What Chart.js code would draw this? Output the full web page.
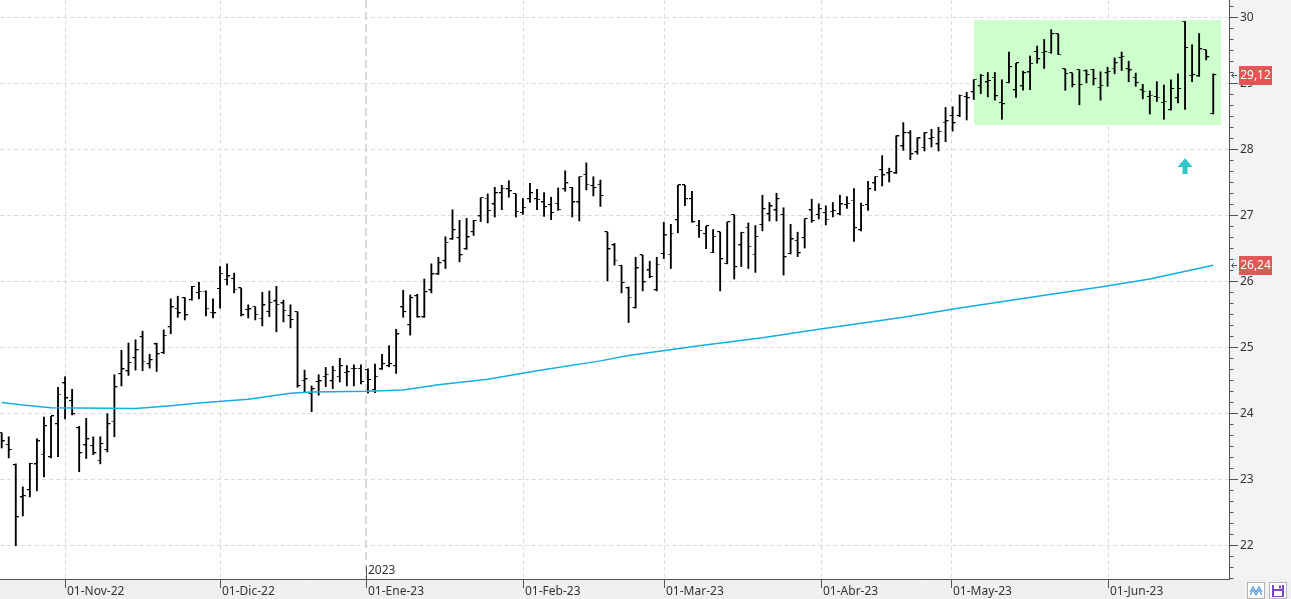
<!DOCTYPE html>
<html><head><meta charset="utf-8">
<script src="https://cdn.jsdelivr.net/npm/chart.js@4/dist/chart.umd.min.js"></script>
<style>html,body{margin:0;padding:0;background:#fff;overflow:hidden}canvas{display:block}</style>
</head><body>
<canvas id="c" width="1291" height="599"></canvas>
<script>
// ---- categories: trading days ----
const dates = [
'2022-10-19','2022-10-20','2022-10-21','2022-10-24','2022-10-25','2022-10-26','2022-10-27','2022-10-28','2022-10-31',
'2022-11-01','2022-11-02','2022-11-03','2022-11-04','2022-11-07','2022-11-08','2022-11-09','2022-11-10','2022-11-11','2022-11-14','2022-11-15','2022-11-16','2022-11-17','2022-11-18','2022-11-21','2022-11-22','2022-11-23','2022-11-24','2022-11-25','2022-11-28','2022-11-29','2022-11-30',
'2022-12-01','2022-12-02','2022-12-05','2022-12-06','2022-12-07','2022-12-08','2022-12-09','2022-12-12','2022-12-13','2022-12-14','2022-12-15','2022-12-16','2022-12-19','2022-12-20','2022-12-21','2022-12-22','2022-12-23','2022-12-27','2022-12-28','2022-12-29','2022-12-30',
'2023-01-02','2023-01-03','2023-01-04','2023-01-05','2023-01-06','2023-01-09','2023-01-10','2023-01-11','2023-01-12','2023-01-13','2023-01-16','2023-01-17','2023-01-18','2023-01-19','2023-01-20','2023-01-23','2023-01-24','2023-01-25','2023-01-26','2023-01-27','2023-01-30','2023-01-31',
'2023-02-01','2023-02-02','2023-02-03','2023-02-06','2023-02-07','2023-02-08','2023-02-09','2023-02-10','2023-02-13','2023-02-14','2023-02-15','2023-02-16','2023-02-17','2023-02-20','2023-02-21','2023-02-22','2023-02-23','2023-02-24','2023-02-27','2023-02-28',
'2023-03-01','2023-03-02','2023-03-03','2023-03-06','2023-03-07','2023-03-08','2023-03-09','2023-03-10','2023-03-13','2023-03-14','2023-03-15','2023-03-16','2023-03-17','2023-03-20','2023-03-21','2023-03-22','2023-03-23','2023-03-24','2023-03-27','2023-03-28','2023-03-29','2023-03-30','2023-03-31',
'2023-04-03','2023-04-04','2023-04-05','2023-04-06','2023-04-11','2023-04-12','2023-04-13','2023-04-14','2023-04-17','2023-04-18','2023-04-19','2023-04-20','2023-04-21','2023-04-24','2023-04-25','2023-04-26','2023-04-27','2023-04-28',
'2023-05-02','2023-05-03','2023-05-04','2023-05-05','2023-05-08','2023-05-09','2023-05-10','2023-05-11','2023-05-12','2023-05-15','2023-05-16','2023-05-17','2023-05-18','2023-05-19','2023-05-22','2023-05-23','2023-05-24','2023-05-25','2023-05-26','2023-05-29','2023-05-30','2023-05-31',
'2023-06-01','2023-06-02','2023-06-05','2023-06-06','2023-06-07','2023-06-08','2023-06-09','2023-06-12','2023-06-13','2023-06-14','2023-06-15','2023-06-16','2023-06-19','2023-06-20','2023-06-21','2023-06-22'
];

// ---- series values (OHLC) ----
const opens = [23.70,23.52,23.21,22.72,22.83,23.22,23.37,23.33,23.83,24.45,
24.18,23.77,23.51,23.50,23.28,23.44,23.87,24.59,24.63,24.83,
25.15,24.74,25.04,24.91,25.30,25.58,25.74,25.71,25.82,25.84,
25.52,25.88,26.02,26.03,25.89,25.56,25.61,25.43,25.53,25.69,
25.66,25.47,25.53,24.49,24.29,24.47,24.55,24.48,24.55,24.61,
24.67,24.67,24.65,24.35,24.66,24.71,24.71,25.60,25.33,25.77,
25.45,25.86,26.10,26.30,26.63,26.65,26.48,26.74,26.98,27.25,
27.16,27.33,27.39,27.32,27.03,27.24,27.24,27.19,27.15,27.17,
27.39,27.41,27.19,27.61,27.44,27.46,26.74,26.54,26.23,25.89,
25.59,26.39,26.16,25.86,26.41,26.40,26.92,27.45,27.24,26.84,
26.71,26.43,26.74,26.26,27.00,26.54,26.81,26.40,26.85,27.01,
27.07,27.00,26.41,26.61,26.65,27.07,27.00,27.03,27.05,27.01,
27.15,27.22,26.77,27.15,27.48,27.68,27.63,27.63,28.04,28.24,
27.95,28.02,28.15,28.07,28.40,28.50,28.50,28.79,28.86,28.95,
29.01,29.08,28.70,29.00,28.89,28.95,29.16,29.47,29.46,29.46,
29.74,29.21,29.15,29.20,29.18,29.20,28.93,29.15,29.22,29.38,
29.21,29.08,28.89,28.79,28.79,28.70,28.59,28.77,29.93,29.11,
29.10,29.50,28.53];
const highs = [23.70,23.64,23.23,22.88,23.24,23.61,23.94,23.95,24.39,24.55,
24.36,23.80,23.92,23.64,23.64,23.99,24.58,24.95,25.06,25.11,
25.24,24.89,25.06,25.26,25.73,25.77,25.75,25.92,25.98,25.85,
25.73,26.22,26.26,26.12,25.89,25.64,25.61,25.83,25.85,25.92,
25.71,25.64,25.53,24.65,24.41,24.58,24.69,24.71,24.83,24.72,
24.73,24.73,24.67,24.74,24.89,25.02,25.27,25.86,25.79,25.80,
26.03,26.26,26.36,26.67,27.08,26.92,26.95,26.92,27.26,27.32,
27.42,27.45,27.52,27.32,27.25,27.48,27.39,27.34,27.27,27.41,
27.67,27.42,27.58,27.79,27.58,27.53,26.74,26.57,26.24,25.91,
26.36,26.39,26.30,26.36,26.89,26.86,27.45,27.45,27.36,26.92,
26.83,26.78,26.74,26.89,27.00,26.74,26.88,26.84,27.30,27.19,
27.33,27.11,26.86,26.74,26.94,27.24,27.17,27.14,27.19,27.30,
27.28,27.40,27.18,27.51,27.58,27.90,27.71,28.20,28.40,28.28,
28.17,28.25,28.30,28.33,28.63,28.64,28.82,28.86,29.05,29.13,
29.16,29.16,29.05,29.47,29.30,29.18,29.41,29.56,29.66,29.81,
29.74,29.21,29.15,29.20,29.20,29.21,29.17,29.24,29.38,29.47,
29.33,29.15,28.98,28.88,29.02,28.97,29.05,29.14,29.93,29.58,
29.75,29.50,29.14];
const lows = [23.47,23.32,21.99,22.44,22.73,22.82,23.03,23.32,23.34,23.91,
23.97,23.11,23.31,23.37,23.23,23.41,23.64,24.41,24.57,24.65,
24.64,24.68,24.63,24.90,25.20,25.45,25.41,25.71,25.73,25.47,
25.44,25.59,25.94,25.82,25.47,25.44,25.41,25.32,25.46,25.23,
25.38,25.29,24.39,24.32,24.02,24.27,24.40,24.37,24.47,24.41,
24.41,24.44,24.30,24.31,24.66,24.70,24.60,25.45,25.18,25.45,
25.45,25.82,26.10,26.19,26.63,26.29,26.48,26.69,26.90,26.88,
26.97,27.08,27.27,26.97,27.01,27.19,27.08,26.98,26.93,27.07,
27.36,26.97,26.91,27.38,27.29,27.13,26.00,26.24,25.82,25.37,
25.59,25.85,26.05,25.85,26.34,26.19,26.73,27.14,26.89,26.66,
26.49,26.43,25.85,26.26,26.03,26.22,26.19,26.13,26.76,26.91,
26.91,26.09,26.41,26.37,26.50,26.89,26.94,26.85,26.97,27.00,
27.10,26.60,26.76,27.07,27.37,27.44,27.50,27.63,27.98,27.84,
27.92,27.97,28.03,27.97,28.11,28.27,28.49,28.44,28.75,28.84,
28.79,28.74,28.45,29.00,28.78,28.89,28.90,29.30,29.22,29.45,
29.43,28.89,28.94,28.67,29.00,28.97,28.74,28.95,29.14,29.19,
29.02,28.95,28.76,28.53,28.72,28.45,28.59,28.70,28.60,29.02,
29.10,29.35,28.53];
const closes = [23.57,23.44,22.42,22.74,23.23,23.57,23.80,23.95,24.28,24.22,
23.98,23.39,23.60,23.39,23.53,23.83,24.39,24.66,24.76,24.95,
24.78,24.80,24.89,25.17,25.60,25.51,25.48,25.91,25.84,25.58,
25.51,26.11,26.07,25.87,25.48,25.57,25.49,25.63,25.67,25.64,
25.55,25.41,24.41,24.51,24.36,24.48,24.58,24.64,24.71,24.62,
24.67,24.47,24.50,24.55,24.74,24.74,25.19,25.53,25.74,25.45,
25.83,26.10,26.27,26.58,26.77,26.39,26.66,26.91,27.26,27.06,
27.33,27.40,27.36,27.05,27.11,27.33,27.23,27.12,27.03,27.08,
27.48,27.19,27.58,27.46,27.41,27.29,26.48,26.31,25.97,25.75,
26.19,25.98,26.06,26.25,26.69,26.72,27.45,27.24,26.89,26.76,
26.83,26.67,26.33,26.89,26.21,26.73,26.52,26.67,27.09,27.13,
27.24,26.36,26.63,26.42,26.94,26.91,27.09,26.93,27.06,27.16,
27.17,26.80,27.14,27.39,27.58,27.60,27.65,28.19,28.24,27.92,
28.16,28.24,28.17,28.26,28.42,28.39,28.81,28.77,29.05,29.11,
29.03,28.80,28.68,29.24,29.30,29.15,29.29,29.36,29.47,29.74,
29.43,29.14,28.97,28.97,29.12,29.06,28.96,29.17,29.30,29.40,
29.19,29.00,28.87,28.81,28.78,28.72,28.91,28.91,29.53,29.12,
29.51,29.39,29.12];

// ---- moving average (read at bar indices) ----
const maIdx = [0,3,7,19,24,28,35,41,44,52,57,62,69,76,85,89,99,108,116,128,136,149,156,163,172];
const maVal = [24.16,24.12,24.08,24.07,24.11,24.15,24.21,24.30,24.32,24.33,24.35,24.43,24.51,24.64,24.79,24.87,25.02,25.14,25.27,25.45,25.59,25.80,25.91,26.03,26.24];

// ---- axis labels ----
const monthStarts = ['2022-11-01','2022-12-01','2023-01-01','2023-02-01','2023-03-01','2023-04-01','2023-05-01','2023-06-01'];
const monthLabels = ['01-Nov-22','01-Dic-22','01-Ene-23','01-Feb-23','01-Mar-23','01-Abr-23','01-May-23','01-Jun-23'];
const yearStart = '2023-01-01';
const yearLabel = '2023';
const yTickLabels = [22,23,24,25,26,27,28,29,30];
const priceTags = [29.12, 26.24];

// ---- annotations ----
const zoneDates = ['2023-05-05', '2023-06-22'];
const zoneValues = [28.37, 29.955];
const arrowDate = '2023-06-16';
const arrowValues = [27.62, 27.86];

// ---------------------------------------------------------------
function dayNum(s){const p=s.split('-').map(Number);return Date.UTC(p[0],p[1]-1,p[2])/86400000;}
const dn = dates.map(dayNum);
function posOf(s){
  const t=dayNum(s);
  for(let i=0;i<dn.length;i++){
    if(dn[i]===t) return i;
    if(dn[i]>t) return i===0?-0.5:(i-1)+(t-dn[i-1])/(dn[i]-dn[i-1]);
  }
  return dn.length-1;
}
const monthPos = monthStarts.map(posOf);
const yearPos = posOf(yearStart);

function tickImg(side){
  const c=document.createElement('canvas'); c.width=8; c.height=2;
  const g=c.getContext('2d'); g.fillStyle='#000';
  if(side<0) g.fillRect(1,0,3,1); else g.fillRect(4,0,3,1);
  return c;
}
const openImg = tickImg(-1), closeImg = tickImg(1);
const FONT = '"Noto Sans", "DejaVu Sans", sans-serif';

const draw = {
  id:'decor',
  beforeDraw(chart){
    const {ctx, chartArea:a} = chart;
    ctx.save();
    ctx.fillStyle='#f3f3f6'; ctx.fillRect(a.right,0,chart.width-a.right,chart.height);
    ctx.fillStyle='#f0f0f0'; ctx.fillRect(0,a.bottom,chart.width,chart.height-a.bottom);
    ctx.restore();
  },
  beforeDatasetsDraw(chart){
    const {ctx, chartArea:a, scales:{x,y}} = chart;
    ctx.save();
    ctx.beginPath(); ctx.rect(a.left,a.top,a.right-a.left,a.bottom-a.top); ctx.clip();
    ctx.lineWidth=1; ctx.strokeStyle='#dcdcdc'; ctx.setLineDash([4,3]);
    yTickLabels.forEach(v=>{
      const py=Math.round(y.getPixelForValue(v))+0.5;
      ctx.beginPath(); ctx.moveTo(a.left,py); ctx.lineTo(a.right,py); ctx.stroke();
    });
    monthPos.forEach(p=>{
      if(Math.abs(p-yearPos)<1e-6) return;
      const px=Math.round(x.getPixelForValue(p))+0.5;
      ctx.beginPath(); ctx.moveTo(px,a.top); ctx.lineTo(px,a.bottom); ctx.stroke();
    });
    ctx.strokeStyle='#d2d2d2'; ctx.lineWidth=1.6; ctx.setLineDash([8,4]);
    const yp=Math.round(x.getPixelForValue(yearPos));
    ctx.beginPath(); ctx.moveTo(yp,a.top); ctx.lineTo(yp,a.bottom); ctx.stroke();
    ctx.setLineDash([]);
    // green zone
    const zx0=x.getPixelForValue(posOf(zoneDates[0])), zx1=x.getPixelForValue(posOf(zoneDates[1])+1.1);
    const zy0=y.getPixelForValue(zoneValues[1]), zy1=y.getPixelForValue(zoneValues[0]);
    ctx.fillStyle='#ccffcc';
    ctx.fillRect(Math.round(zx0),Math.round(zy0),Math.round(zx1-zx0),Math.round(zy1-zy0));
    ctx.restore();
  },
  afterDatasetsDraw(chart){
    const {ctx, chartArea:a, scales:{x,y}} = chart;
    ctx.save();
    // cyan arrow
    const ax=x.getPixelForValue(posOf(arrowDate));
    const ayB=y.getPixelForValue(arrowValues[0]), ayT=y.getPixelForValue(arrowValues[1]);
    const headH=(ayB-ayT)*0.55;
    ctx.fillStyle='#33c6c8';
    ctx.beginPath(); ctx.moveTo(ax,ayT); ctx.lineTo(ax+7.5,ayT+headH); ctx.lineTo(ax-7.5,ayT+headH); ctx.closePath(); ctx.fill();
    ctx.fillRect(ax-2.5,ayT+headH-0.5,5,ayB-ayT-headH+0.5);
    // axis lines
    ctx.strokeStyle='#555'; ctx.lineWidth=1;
    ctx.beginPath(); ctx.moveTo(a.right+0.5,0); ctx.lineTo(a.right+0.5,a.bottom); ctx.stroke();
    ctx.beginPath(); ctx.moveTo(0,a.bottom+0.5); ctx.lineTo(a.right+1,a.bottom+0.5); ctx.stroke();
    // y ticks (major + minor sixths) and labels
    for(let k=Math.ceil(y.min*6);k<=Math.floor(y.max*6);k++){
      const v=k/6, py=Math.round(y.getPixelForValue(v))+0.5;
      const major = k%6===0;
      ctx.beginPath(); ctx.moveTo(a.right+1,py); ctx.lineTo(a.right+(major?9:4.5),py); ctx.stroke();
    }
    ctx.fillStyle='#333'; ctx.font='12px '+FONT; ctx.textBaseline='middle'; ctx.textAlign='left';
    yTickLabels.forEach(v=>{
      ctx.fillText(String(v), a.right+11, y.getPixelForValue(v)+0.5);
    });
    // x ticks + labels
    monthPos.forEach((p,i)=>{
      const px=Math.round(x.getPixelForValue(p))+0.5;
      ctx.beginPath(); ctx.moveTo(px,a.bottom+1); ctx.lineTo(px,a.bottom+9); ctx.stroke();
      ctx.fillText(monthLabels[i],px+1.5,a.bottom+13);
    });
    const ypx=Math.round(x.getPixelForValue(yearPos))+0.5;
    ctx.beginPath(); ctx.moveTo(ypx,a.bottom-13); ctx.lineTo(ypx,a.bottom); ctx.stroke();
    ctx.fillText(yearLabel,ypx+1.5,a.bottom-8);
    // price tags
    priceTags.forEach(v=>{
      const py=y.getPixelForValue(v);
      ctx.fillStyle='#e35656';
      ctx.fillRect(a.right+10,Math.round(py-9.5),33,19);
      ctx.fillStyle='#fff'; ctx.textAlign='center';
      ctx.fillText(v.toFixed(2).replace('.',','),a.right+26.5,py+0.5);
      ctx.strokeStyle='#555'; ctx.lineWidth=1;
      const ry=Math.round(py)+0.5;
      ctx.beginPath(); ctx.moveTo(a.right+8,ry); ctx.lineTo(a.right+2.5,ry);
      ctx.moveTo(a.right+5,ry-2.5); ctx.lineTo(a.right+2.5,ry); ctx.lineTo(a.right+5,ry+2.5); ctx.stroke();
      ctx.textAlign='left';
    });
    // corner icons
    ctx.fillStyle='#fff'; ctx.strokeStyle='#b4b4b4';
    ctx.fillRect(1247.5,582.5,17,16); ctx.strokeRect(1247.5,582.5,17,16);
    ctx.fillRect(1269.5,582.5,17,16); ctx.strokeRect(1269.5,582.5,17,16);
    ctx.strokeStyle='#5a9bd8'; ctx.lineWidth=1.2;
    ctx.beginPath(); ctx.moveTo(1250,592); ctx.lineTo(1253,587); ctx.lineTo(1256,592); ctx.lineTo(1259,587); ctx.lineTo(1262,592); ctx.stroke();
    ctx.beginPath(); ctx.moveTo(1250,595); ctx.lineTo(1253,590); ctx.lineTo(1256,595); ctx.lineTo(1259,590); ctx.lineTo(1262,595); ctx.stroke();
    ctx.fillStyle='#7b46c4'; ctx.fillRect(1272,585,12,12);
    ctx.fillStyle='#fff'; ctx.fillRect(1274,585,8,4); ctx.fillRect(1274,591,8,5);
    ctx.fillStyle='#7b46c4'; ctx.fillRect(1279,585.5,2,3);
    ctx.restore();
  }
};

new Chart(document.getElementById('c'), {
  type:'bar',
  data:{
    datasets:[
      {type:'line', label:'MA', data:maIdx.map((p,k)=>({x:p,y:maVal[k]})), borderColor:'#12aee6', borderWidth:1.5, pointRadius:0, tension:0, order:0},
      {type:'line', label:'open', data:dates.map((d,i)=>({x:i,y:opens[i]})), showLine:false, pointStyle:openImg, pointRadius:3, order:1},
      {type:'line', label:'close', data:dates.map((d,i)=>({x:i,y:closes[i]})), showLine:false, pointStyle:closeImg, pointRadius:3, order:1},
      {type:'bar', label:'range', data:dates.map((d,i)=>({x:i,y:[lows[i],highs[i]]})), backgroundColor:'#000', borderWidth:0, barThickness:1.2, grouped:false, order:2}
    ]
  },
  options:{
    responsive:false, animation:false, devicePixelRatio:1,
    layout:{padding:0, autoPadding:false},
    plugins:{legend:{display:false}, tooltip:{enabled:false}},
    scales:{
      x:{type:'linear', min:-0.24, max:174.24, offset:false,
         grid:{display:false, drawTicks:false}, border:{display:false}, ticks:{display:false},
         afterFit(s){s.height=20; s.paddingLeft=0; s.paddingRight=0;}},
      y:{position:'right', min:21.485, max:30.258,
         grid:{display:false, drawTicks:false}, border:{display:false}, ticks:{display:false},
         afterFit(s){s.width=62; s.paddingTop=0; s.paddingBottom=0;}}
    }
  },
  plugins:[draw]
});
</script>
</body></html>
